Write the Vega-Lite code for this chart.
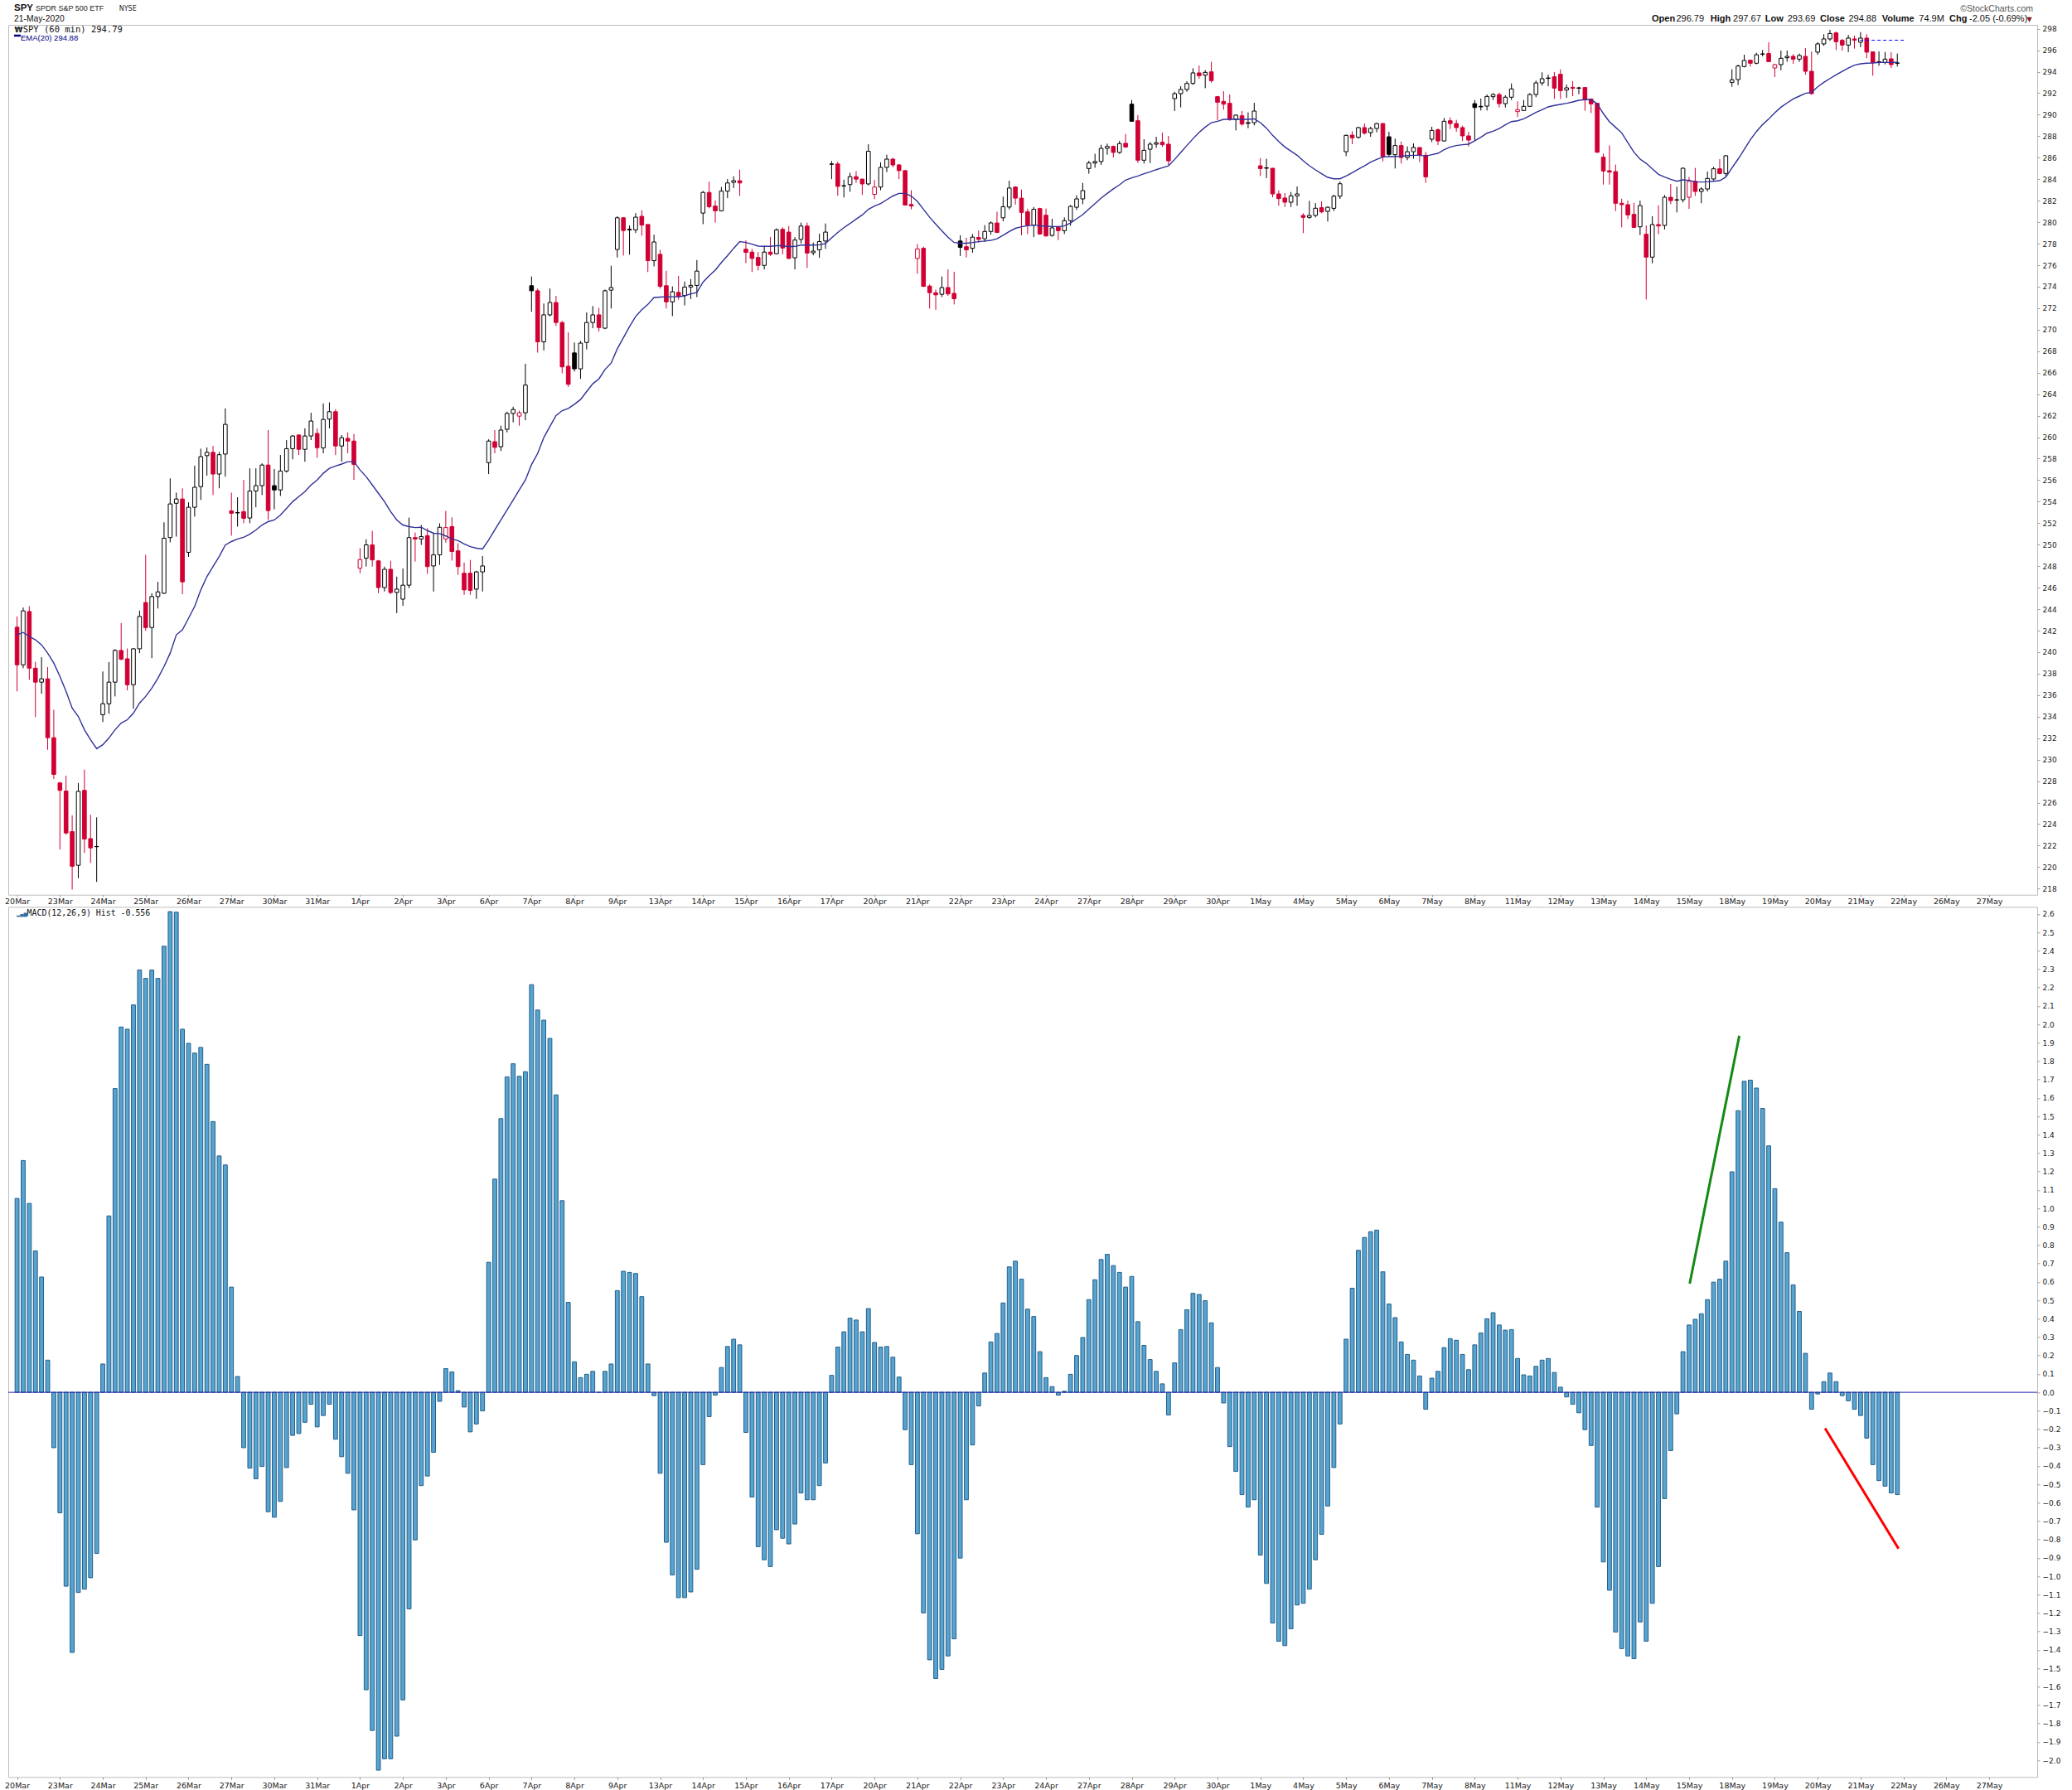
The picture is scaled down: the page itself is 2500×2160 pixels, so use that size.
{
"$schema": "https://vega.github.io/schema/vega-lite/v6.json",
"background": "white",
"padding": 0,
"bounds": "flush",
"spacing": 14.3,
"config": {"view": {"stroke": "#bdbdbd", "strokeWidth": 1}, "axis": {"labelFont": "DejaVu Sans", "labelFontSize": 9.5, "labelColor": "#1a1a1a", "tickColor": "#9a9a9a", "grid": false, "domain": false, "labelOverlap": false}},
"datasets": {
"bars": [
{"i":0,"o":242.32,"h":243.32,"l":236.35,"c":238.82,"e":241.61,"m":1.054},
{"i":1,"o":238.82,"h":244.15,"l":238.51,"c":243.84,"e":241.83,"m":1.26},
{"i":2,"o":243.78,"h":244.28,"l":237.43,"c":238.51,"e":241.46,"m":1.027},
{"i":3,"o":238.51,"h":239.10,"l":233.96,"c":237.21,"e":241.15,"m":0.769},
{"i":4,"o":237.21,"h":239.54,"l":236.13,"c":237.52,"e":240.68,"m":0.627},
{"i":5,"o":237.52,"h":238.61,"l":230.92,"c":232.04,"e":239.91,"m":0.175},
{"i":6,"o":232.04,"h":234.64,"l":228.2,"c":228.63,"e":238.98,"m":-0.301},
{"i":7,"o":227.83,"h":227.92,"l":221.63,"c":227.14,"e":237.74,"m":-0.655},
{"i":8,"o":227.08,"h":228.51,"l":223.02,"c":223.18,"e":236.35,"m":-1.054},
{"i":9,"o":223.30,"h":224.82,"l":217.91,"c":220.08,"e":234.8,"m":-1.414},
{"i":10,"o":220.17,"h":227.83,"l":218.97,"c":227.05,"e":234.02,"m":-1.088},
{"i":11,"o":227.14,"h":229.07,"l":221.32,"c":222.62,"e":232.78,"m":-1.07},
{"i":12,"o":222.65,"h":224.88,"l":220.39,"c":221.79,"e":231.85,"m":-1.008},
{"i":13,"o":221.90,"h":224.63,"l":218.63,"c":221.92,"e":231.02,"m":-0.876},
{"i":14,"o":234.18,"h":238.2,"l":233.5,"c":235.2,"e":231.39,"m":0.154},
{"i":15,"o":235.2,"h":239.07,"l":234.27,"c":237.21,"e":232.01,"m":0.959},
{"i":16,"o":237.21,"h":240.28,"l":235.88,"c":240.16,"e":232.78,"m":1.651},
{"i":17,"o":240.16,"h":242.7,"l":239.23,"c":239.35,"e":233.4,"m":1.986},
{"i":18,"o":239.38,"h":240.34,"l":236.44,"c":236.97,"e":233.71,"m":1.974},
{"i":19,"o":236.97,"h":240.37,"l":234.73,"c":240.31,"e":234.33,"m":2.106},
{"i":20,"o":240.31,"h":243.87,"l":239.91,"c":243.32,"e":235.26,"m":2.296},
{"i":21,"o":244.62,"h":249.05,"l":241.98,"c":242.29,"e":235.88,"m":2.25},
{"i":22,"o":242.29,"h":245.48,"l":239.44,"c":245.17,"e":236.65,"m":2.296},
{"i":23,"o":245.17,"h":246.54,"l":244.06,"c":245.61,"e":237.58,"m":2.25},
{"i":24,"o":245.48,"h":252.08,"l":245.42,"c":250.6,"e":238.67,"m":2.425},
{"i":25,"o":250.66,"h":256.17,"l":250.22,"c":253.79,"e":239.91,"m":2.613},
{"i":26,"o":253.85,"h":254.84,"l":250.75,"c":254.25,"e":241.61,"m":2.61},
{"i":27,"o":254.25,"h":255.24,"l":245.39,"c":246.54,"e":242.08,"m":1.974},
{"i":28,"o":249.29,"h":253.94,"l":248.86,"c":253.48,"e":243.16,"m":1.897},
{"i":29,"o":253.48,"h":257.35,"l":252.61,"c":255.34,"e":244.25,"m":1.844},
{"i":30,"o":255.4,"h":258.93,"l":254.16,"c":258.19,"e":245.79,"m":1.875},
{"i":31,"o":258.28,"h":259.05,"l":256.42,"c":258.59,"e":247.03,"m":1.783},
{"i":32,"o":258.59,"h":259.18,"l":254.62,"c":256.57,"e":247.96,"m":1.472},
{"i":33,"o":256.57,"h":258.62,"l":255.24,"c":258.37,"e":248.89,"m":1.285},
{"i":34,"o":258.43,"h":262.68,"l":256.33,"c":261.19,"e":249.97,"m":1.236},
{"i":35,"o":253.14,"h":254.84,"l":250.84,"c":252.92,"e":250.29,"m":0.572},
{"i":36,"o":252.99,"h":254.41,"l":251.68,"c":252.95,"e":250.53,"m":0.086},
{"i":37,"o":253.07,"h":256.02,"l":251.99,"c":252.45,"e":250.69,"m":-0.301},
{"i":38,"o":252.48,"h":257.1,"l":251.99,"c":254.99,"e":250.97,"m":-0.412},
{"i":39,"o":254.99,"h":257.1,"l":253.48,"c":255.49,"e":251.37,"m":-0.47},
{"i":40,"o":255.49,"h":257.57,"l":254.62,"c":257.41,"e":251.83,"m":-0.403},
{"i":41,"o":257.41,"h":260.66,"l":252.3,"c":253.17,"e":252.14,"m":-0.649},
{"i":42,"o":255.49,"h":257.04,"l":253.29,"c":255.09,"e":252.3,"m":-0.679},
{"i":43,"o":255.09,"h":258.34,"l":254.53,"c":256.85,"e":252.76,"m":-0.593},
{"i":44,"o":256.85,"h":259.73,"l":256.7,"c":258.93,"e":253.38,"m":-0.409},
{"i":45,"o":258.93,"h":260.2,"l":257.94,"c":260.11,"e":254.0,"m":-0.234},
{"i":46,"o":260.2,"h":260.26,"l":258.34,"c":258.87,"e":254.47,"m":-0.224},
{"i":47,"o":258.87,"h":260.82,"l":257.72,"c":260.11,"e":254.93,"m":-0.163},
{"i":48,"o":260.11,"h":262.27,"l":259.73,"c":261.5,"e":255.55,"m":-0.065},
{"i":49,"o":260.35,"h":260.82,"l":258.09,"c":259.02,"e":256.02,"m":-0.188},
{"i":50,"o":259.0,"h":263.14,"l":258.5,"c":261.65,"e":256.64,"m":-0.126},
{"i":51,"o":261.68,"h":263.23,"l":260.82,"c":262.37,"e":257.1,"m":-0.065},
{"i":52,"o":262.37,"h":262.62,"l":258.34,"c":259.18,"e":257.32,"m":-0.255},
{"i":53,"o":259.18,"h":260.2,"l":257.72,"c":259.95,"e":257.5,"m":-0.35},
{"i":54,"o":259.89,"h":260.45,"l":258.5,"c":259.64,"e":257.72,"m":-0.44},
{"i":55,"o":259.64,"h":260.29,"l":256.02,"c":257.47,"e":257.72,"m":-0.639},
{"i":56,"o":247.81,"h":249.67,"l":247.34,"c":248.61,"e":256.95,"m":-1.322},
{"i":57,"o":248.74,"h":250.5,"l":247.96,"c":249.98,"e":256.33,"m":-1.617},
{"i":58,"o":249.98,"h":251.28,"l":247.96,"c":248.58,"e":255.55,"m":-1.838},
{"i":59,"o":248.49,"h":248.58,"l":245.48,"c":246.01,"e":254.78,"m":-2.054},
{"i":60,"o":246.01,"h":247.96,"l":245.64,"c":247.71,"e":254.0,"m":-1.992},
{"i":61,"o":247.71,"h":248.49,"l":245.39,"c":245.55,"e":253.07,"m":-1.992},
{"i":62,"o":245.55,"h":247.03,"l":243.63,"c":245.86,"e":252.3,"m":-1.869},
{"i":63,"o":244.93,"h":247.78,"l":244.31,"c":246.23,"e":251.83,"m":-1.672},
{"i":64,"o":246.23,"h":252.52,"l":245.95,"c":250.66,"e":251.68,"m":-1.177},
{"i":65,"o":250.66,"h":251.12,"l":248.43,"c":250.53,"e":251.59,"m":-0.802},
{"i":66,"o":250.53,"h":251.83,"l":249.98,"c":250.75,"e":251.62,"m":-0.507},
{"i":67,"o":250.84,"h":251.53,"l":247.28,"c":247.96,"e":251.31,"m":-0.455},
{"i":68,"o":248.02,"h":251.12,"l":245.64,"c":249.05,"e":251.06,"m":-0.326},
{"i":69,"o":249.05,"h":251.99,"l":248.12,"c":251.62,"e":251.03,"m":-0.049},
{"i":70,"o":250.53,"h":253.14,"l":250.19,"c":251.59,"e":250.81,"m":0.129},
{"i":71,"o":251.68,"h":252.55,"l":248.52,"c":249.36,"e":250.53,"m":0.111},
{"i":72,"o":249.42,"h":250.13,"l":247.19,"c":247.96,"e":250.38,"m":0.009},
{"i":73,"o":247.34,"h":248.33,"l":245.33,"c":245.79,"e":250.07,"m":-0.08},
{"i":74,"o":247.34,"h":248.58,"l":245.33,"c":245.75,"e":249.82,"m":-0.215},
{"i":75,"o":245.86,"h":247.56,"l":244.96,"c":247.47,"e":249.67,"m":-0.172},
{"i":76,"o":247.47,"h":248.95,"l":245.64,"c":248.02,"e":249.6,"m":-0.101},
{"i":77,"o":257.63,"h":259.8,"l":256.57,"c":259.64,"e":250.44,"m":0.707},
{"i":78,"o":259.58,"h":260.66,"l":258.5,"c":259.05,"e":251.37,"m":1.159},
{"i":79,"o":259.11,"h":261.07,"l":258.71,"c":260.66,"e":252.3,"m":1.488},
{"i":80,"o":260.73,"h":262.37,"l":260.45,"c":262.21,"e":253.23,"m":1.715},
{"i":81,"o":262.21,"h":262.83,"l":261.38,"c":262.58,"e":254.16,"m":1.786},
{"i":82,"o":261.96,"h":262.46,"l":261.07,"c":262.27,"e":255.09,"m":1.718},
{"i":83,"o":262.27,"h":266.83,"l":261.58,"c":264.85,"e":256.02,"m":1.743},
{"i":84,"o":274.09,"h":274.95,"l":271.67,"c":273.62,"e":257.45,"m":2.216},
{"i":85,"o":273.62,"h":273.83,"l":267.87,"c":268.87,"e":258.48,"m":2.078},
{"i":86,"o":268.87,"h":272.44,"l":268.07,"c":271.38,"e":259.96,"m":2.023},
{"i":87,"o":271.38,"h":273.83,"l":271.23,"c":272.53,"e":260.99,"m":1.924},
{"i":88,"o":272.53,"h":273.15,"l":270.34,"c":270.67,"e":262.02,"m":1.617},
{"i":89,"o":270.67,"h":270.82,"l":265.95,"c":266.54,"e":262.47,"m":1.042},
{"i":90,"o":266.6,"h":269.75,"l":264.68,"c":264.92,"e":262.67,"m":0.489},
{"i":91,"o":267.84,"h":268.81,"l":266.10,"c":266.36,"e":263.06,"m":0.166},
{"i":92,"o":266.36,"h":268.96,"l":265.42,"c":268.75,"e":263.5,"m":0.08},
{"i":93,"o":268.81,"h":271.61,"l":268.16,"c":270.67,"e":264.24,"m":0.098},
{"i":94,"o":270.67,"h":272.2,"l":270.14,"c":271.38,"e":264.97,"m":0.114},
{"i":95,"o":271.38,"h":272.03,"l":269.84,"c":270.2,"e":265.42,"m":0.0},
{"i":96,"o":270.14,"h":273.74,"l":270.05,"c":273.62,"e":266.3,"m":0.114},
{"i":97,"o":273.68,"h":275.95,"l":271.97,"c":273.92,"e":266.89,"m":0.154},
{"i":98,"o":277.46,"h":280.55,"l":276.72,"c":280.41,"e":268.22,"m":0.553},
{"i":99,"o":280.41,"h":280.47,"l":276.9,"c":279.23,"e":269.25,"m":0.658},
{"i":100,"o":279.35,"h":279.7,"l":276.98,"c":279.29,"e":270.29,"m":0.652},
{"i":101,"o":279.29,"h":280.85,"l":278.99,"c":280.47,"e":271.23,"m":0.646},
{"i":102,"o":280.55,"h":281.11,"l":278.75,"c":279.73,"e":271.85,"m":0.52},
{"i":103,"o":279.79,"h":279.79,"l":275.36,"c":276.42,"e":272.35,"m":0.154},
{"i":104,"o":276.42,"h":278.84,"l":275.89,"c":278.16,"e":273.0,"m":-0.018},
{"i":105,"o":277.01,"h":277.43,"l":273.83,"c":274.03,"e":273.03,"m":-0.44},
{"i":106,"o":274.09,"h":275.48,"l":271.97,"c":272.59,"e":273.06,"m":-0.815},
{"i":107,"o":272.59,"h":274.03,"l":271.26,"c":273.53,"e":273.06,"m":-0.993},
{"i":108,"o":273.47,"h":275.01,"l":272.79,"c":273.09,"e":273.06,"m":-1.116},
{"i":109,"o":273.18,"h":274.48,"l":272.26,"c":273.97,"e":273.15,"m":-1.116},
{"i":110,"o":273.97,"h":274.71,"l":272.85,"c":274.12,"e":273.33,"m":-1.085},
{"i":111,"o":274.12,"h":276.48,"l":273.03,"c":275.45,"e":273.47,"m":-0.962},
{"i":112,"o":280.85,"h":282.91,"l":279.82,"c":282.77,"e":274.42,"m":-0.393},
{"i":113,"o":282.77,"h":283.77,"l":281.29,"c":281.44,"e":275.01,"m":-0.132},
{"i":114,"o":281.5,"h":282.03,"l":279.96,"c":281.06,"e":275.54,"m":-0.015},
{"i":115,"o":281.06,"h":283.27,"l":281.0,"c":282.89,"e":276.25,"m":0.135},
{"i":116,"o":282.89,"h":284.01,"l":282.24,"c":283.65,"e":276.89,"m":0.249},
{"i":117,"o":283.71,"h":284.27,"l":283.18,"c":283.86,"e":277.57,"m":0.289},
{"i":118,"o":283.86,"h":284.89,"l":282.44,"c":283.65,"e":278.19,"m":0.258},
{"i":119,"o":277.49,"h":278.31,"l":276.19,"c":277.19,"e":278.11,"m":-0.218},
{"i":120,"o":277.22,"h":277.52,"l":275.36,"c":276.63,"e":277.96,"m":-0.569},
{"i":121,"o":276.72,"h":277.22,"l":275.51,"c":275.98,"e":277.78,"m":-0.839},
{"i":122,"o":275.98,"h":277.81,"l":275.6,"c":277.22,"e":277.75,"m":-0.91},
{"i":123,"o":277.22,"h":278.63,"l":276.86,"c":277.01,"e":277.75,"m":-0.947},
{"i":124,"o":277.07,"h":279.43,"l":277.01,"c":279.29,"e":277.81,"m":-0.747},
{"i":125,"o":279.34,"h":279.52,"l":277.01,"c":277.6,"e":277.81,"m":-0.793},
{"i":126,"o":279.08,"h":279.64,"l":276.57,"c":276.63,"e":277.72,"m":-0.824},
{"i":127,"o":276.69,"h":278.61,"l":275.6,"c":278.34,"e":277.75,"m":-0.716},
{"i":128,"o":278.4,"h":279.96,"l":278.02,"c":279.64,"e":277.87,"m":-0.547},
{"i":129,"o":279.64,"h":279.96,"l":275.74,"c":277.13,"e":277.87,"m":-0.584},
{"i":130,"o":277.16,"h":278.11,"l":276.92,"c":277.31,"e":277.87,"m":-0.584},
{"i":131,"o":277.43,"h":278.93,"l":276.69,"c":278.2,"e":277.9,"m":-0.507},
{"i":132,"o":278.25,"h":279.88,"l":277.52,"c":279.08,"e":278.02,"m":-0.384},
{"i":133,"o":285.42,"h":285.69,"l":284.01,"c":285.39,"e":278.55,"m":0.092},
{"i":134,"o":285.42,"h":285.63,"l":282.47,"c":283.33,"e":279.05,"m":0.246},
{"i":135,"o":283.4,"h":283.95,"l":282.3,"c":283.36,"e":279.49,"m":0.329},
{"i":136,"o":283.5,"h":284.6,"l":282.83,"c":284.24,"e":279.88,"m":0.403},
{"i":137,"o":284.24,"h":284.75,"l":283.65,"c":284.01,"e":280.29,"m":0.393},
{"i":138,"o":284.01,"h":284.05,"l":282.53,"c":283.56,"e":280.67,"m":0.329},
{"i":139,"o":283.56,"h":287.25,"l":283.42,"c":286.6,"e":281.2,"m":0.455},
{"i":140,"o":282.59,"h":283.92,"l":282.15,"c":283.27,"e":281.5,"m":0.271},
{"i":141,"o":283.27,"h":285.57,"l":282.97,"c":285.1,"e":281.73,"m":0.246},
{"i":142,"o":285.1,"h":286.28,"l":284.66,"c":285.87,"e":282.09,"m":0.249},
{"i":143,"o":285.87,"h":285.99,"l":285.1,"c":285.33,"e":282.44,"m":0.191},
{"i":144,"o":285.33,"h":285.42,"l":284.01,"c":284.8,"e":282.68,"m":0.083},
{"i":145,"o":284.8,"h":284.85,"l":281.56,"c":281.59,"e":282.68,"m":-0.203},
{"i":146,"o":281.65,"h":282.97,"l":281.2,"c":281.5,"e":282.44,"m":-0.393},
{"i":147,"o":276.63,"h":277.96,"l":275.21,"c":277.51,"e":281.94,"m":-0.769},
{"i":148,"o":277.57,"h":277.72,"l":273.97,"c":274.03,"e":281.2,"m":-1.199},
{"i":149,"o":274.06,"h":274.21,"l":271.97,"c":273.44,"e":280.46,"m":-1.454},
{"i":150,"o":273.44,"h":273.74,"l":271.85,"c":273.24,"e":279.82,"m":-1.556},
{"i":151,"o":273.29,"h":274.95,"l":273.03,"c":273.92,"e":279.2,"m":-1.506},
{"i":152,"o":273.92,"h":275.6,"l":273.15,"c":273.33,"e":278.61,"m":-1.433},
{"i":153,"o":273.38,"h":275.39,"l":272.35,"c":272.88,"e":278.11,"m":-1.34},
{"i":154,"o":278.25,"h":278.78,"l":276.86,"c":277.66,"e":278.05,"m":-0.901},
{"i":155,"o":277.72,"h":278.55,"l":276.72,"c":277.43,"e":278.05,"m":-0.584},
{"i":156,"o":277.57,"h":278.9,"l":277.16,"c":278.61,"e":278.11,"m":-0.286},
{"i":157,"o":278.58,"h":279.23,"l":278.11,"c":278.4,"e":278.19,"m":-0.074},
{"i":158,"o":278.46,"h":279.73,"l":278.16,"c":279.14,"e":278.25,"m":0.105},
{"i":159,"o":279.14,"h":280.08,"l":278.84,"c":279.93,"e":278.31,"m":0.274},
{"i":160,"o":279.93,"h":280.97,"l":278.99,"c":279.05,"e":278.46,"m":0.32},
{"i":161,"o":280.41,"h":282.38,"l":280.08,"c":281.44,"e":278.78,"m":0.486},
{"i":162,"o":281.41,"h":283.86,"l":281.2,"c":283.18,"e":279.14,"m":0.682},
{"i":163,"o":283.27,"h":283.36,"l":281.65,"c":282.24,"e":279.43,"m":0.713},
{"i":164,"o":282.24,"h":283.03,"l":278.78,"c":280.91,"e":279.58,"m":0.615},
{"i":165,"o":280.97,"h":281.26,"l":278.9,"c":279.73,"e":279.67,"m":0.452},
{"i":166,"o":279.73,"h":281.41,"l":278.61,"c":281.2,"e":279.73,"m":0.412},
{"i":167,"o":281.27,"h":281.35,"l":278.83,"c":278.9,"e":279.67,"m":0.221},
{"i":168,"o":280.65,"h":281.27,"l":278.65,"c":278.72,"e":279.62,"m":0.08},
{"i":169,"o":278.77,"h":280.32,"l":278.65,"c":279.47,"e":279.6,"m":0.031},
{"i":170,"o":279.55,"h":279.6,"l":278.34,"c":279.21,"e":279.6,"m":-0.015},
{"i":171,"o":279.21,"h":280.45,"l":278.9,"c":280.14,"e":279.65,"m":0.006},
{"i":172,"o":280.14,"h":281.6,"l":279.67,"c":281.47,"e":279.93,"m":0.098},
{"i":173,"o":281.39,"h":282.5,"l":281.14,"c":282.17,"e":280.32,"m":0.2},
{"i":174,"o":282.17,"h":283.66,"l":281.68,"c":282.94,"e":280.7,"m":0.298},
{"i":175,"o":285.0,"h":285.71,"l":284.51,"c":285.51,"e":281.22,"m":0.504},
{"i":176,"o":285.51,"h":286.36,"l":285.07,"c":285.64,"e":281.73,"m":0.612},
{"i":177,"o":285.64,"h":287.2,"l":285.33,"c":286.87,"e":282.25,"m":0.722},
{"i":178,"o":286.87,"h":287.31,"l":286.28,"c":287.05,"e":282.68,"m":0.75},
{"i":179,"o":287.05,"h":287.13,"l":286.02,"c":286.49,"e":283.1,"m":0.689},
{"i":180,"o":286.49,"h":287.57,"l":286.36,"c":287.31,"e":283.48,"m":0.652},
{"i":181,"o":287.34,"h":288.21,"l":286.92,"c":287.0,"e":283.92,"m":0.572},
{"i":182,"o":290.98,"h":291.37,"l":289.37,"c":289.39,"e":284.12,"m":0.63},
{"i":183,"o":289.44,"h":289.96,"l":285.51,"c":285.77,"e":284.3,"m":0.384},
{"i":184,"o":285.77,"h":287.72,"l":285.46,"c":286.69,"e":284.51,"m":0.255},
{"i":185,"o":286.79,"h":287.46,"l":285.51,"c":287.26,"e":284.69,"m":0.178},
{"i":186,"o":287.26,"h":287.95,"l":286.92,"c":287.39,"e":284.89,"m":0.114},
{"i":187,"o":287.44,"h":288.34,"l":287.0,"c":287.21,"e":285.07,"m":0.046},
{"i":188,"o":287.26,"h":288.03,"l":285.33,"c":285.71,"e":285.25,"m":-0.123},
{"i":189,"o":291.5,"h":292.14,"l":290.34,"c":291.96,"e":285.84,"m":0.16},
{"i":190,"o":291.96,"h":292.65,"l":290.68,"c":292.35,"e":286.49,"m":0.341},
{"i":191,"o":292.35,"h":293.12,"l":292.14,"c":292.91,"e":287.13,"m":0.449},
{"i":192,"o":292.91,"h":294.32,"l":292.78,"c":293.89,"e":287.77,"m":0.538},
{"i":193,"o":293.89,"h":294.58,"l":293.35,"c":293.63,"e":288.36,"m":0.532},
{"i":194,"o":293.68,"h":294.15,"l":292.47,"c":293.94,"e":288.85,"m":0.498},
{"i":195,"o":293.99,"h":294.92,"l":292.99,"c":293.17,"e":289.26,"m":0.378},
{"i":196,"o":291.68,"h":291.75,"l":289.49,"c":291.16,"e":289.39,"m":0.135},
{"i":197,"o":291.24,"h":292.19,"l":290.47,"c":290.98,"e":289.57,"m":-0.058},
{"i":198,"o":291.06,"h":291.88,"l":289.44,"c":289.57,"e":289.57,"m":-0.295},
{"i":199,"o":289.57,"h":290.03,"l":288.54,"c":289.96,"e":289.57,"m":-0.43},
{"i":200,"o":289.9,"h":290.34,"l":288.98,"c":289.13,"e":289.57,"m":-0.556},
{"i":201,"o":289.26,"h":290.21,"l":288.75,"c":289.2,"e":289.57,"m":-0.624},
{"i":202,"o":289.26,"h":291.11,"l":289.0,"c":290.34,"e":289.62,"m":-0.584},
{"i":203,"o":285.25,"h":285.97,"l":284.3,"c":284.99,"e":289.26,"m":-0.885},
{"i":204,"o":285.06,"h":285.9,"l":284.1,"c":285.02,"e":288.75,"m":-1.039},
{"i":205,"o":285.02,"h":285.05,"l":282.32,"c":282.63,"e":288.08,"m":-1.254},
{"i":206,"o":282.63,"h":282.96,"l":281.53,"c":282.2,"e":287.51,"m":-1.353},
{"i":207,"o":282.25,"h":282.71,"l":281.42,"c":281.86,"e":287.0,"m":-1.377},
{"i":208,"o":281.86,"h":282.81,"l":281.42,"c":282.45,"e":286.61,"m":-1.285},
{"i":209,"o":282.45,"h":283.32,"l":281.53,"c":282.63,"e":286.23,"m":-1.156},
{"i":210,"o":280.63,"h":280.83,"l":278.98,"c":280.45,"e":285.71,"m":-1.147},
{"i":211,"o":280.45,"h":281.99,"l":280.32,"c":280.63,"e":285.25,"m":-1.07},
{"i":212,"o":280.63,"h":281.78,"l":280.45,"c":281.3,"e":284.87,"m":-0.91},
{"i":213,"o":281.35,"h":281.94,"l":280.83,"c":280.96,"e":284.51,"m":-0.772},
{"i":214,"o":281.01,"h":281.47,"l":280.06,"c":281.39,"e":284.17,"m":-0.618},
{"i":215,"o":281.29,"h":282.55,"l":281.04,"c":282.42,"e":284.04,"m":-0.409},
{"i":216,"o":282.42,"h":283.79,"l":282.17,"c":283.58,"e":284.04,"m":-0.172},
{"i":217,"o":286.56,"h":288.16,"l":286.15,"c":288.08,"e":284.3,"m":0.289},
{"i":218,"o":288.1,"h":288.47,"l":287.26,"c":287.85,"e":284.61,"m":0.566},
{"i":219,"o":287.9,"h":288.88,"l":287.77,"c":288.8,"e":284.94,"m":0.772},
{"i":220,"o":288.8,"h":289.18,"l":288.16,"c":288.28,"e":285.25,"m":0.842},
{"i":221,"o":288.34,"h":288.88,"l":287.95,"c":288.72,"e":285.59,"m":0.873},
{"i":222,"o":288.72,"h":289.24,"l":288.36,"c":289.18,"e":285.84,"m":0.882},
{"i":223,"o":289.18,"h":289.2,"l":285.66,"c":286.1,"e":286.07,"m":0.655},
{"i":224,"o":287.95,"h":288.41,"l":286.1,"c":286.31,"e":286.1,"m":0.48},
{"i":225,"o":286.28,"h":287.77,"l":285.0,"c":287.13,"e":286.1,"m":0.406},
{"i":226,"o":287.13,"h":287.51,"l":285.46,"c":286.02,"e":286.15,"m":0.274},
{"i":227,"o":286.02,"h":287.05,"l":285.77,"c":286.56,"e":286.2,"m":0.206},
{"i":228,"o":286.56,"h":287.33,"l":285.9,"c":286.95,"e":286.23,"m":0.175},
{"i":229,"o":286.95,"h":286.97,"l":285.59,"c":286.23,"e":286.23,"m":0.089},
{"i":230,"o":286.23,"h":286.54,"l":283.66,"c":284.22,"e":286.15,"m":-0.092},
{"i":231,"o":287.72,"h":288.88,"l":287.46,"c":288.54,"e":286.28,"m":0.077},
{"i":232,"o":288.6,"h":288.72,"l":287.18,"c":287.56,"e":286.41,"m":0.114},
{"i":233,"o":287.56,"h":289.7,"l":287.51,"c":289.39,"e":286.74,"m":0.243},
{"i":234,"o":289.44,"h":289.75,"l":288.67,"c":289.18,"e":287.0,"m":0.292},
{"i":235,"o":289.18,"h":289.52,"l":288.41,"c":288.8,"e":287.13,"m":0.283},
{"i":236,"o":288.8,"h":288.98,"l":287.56,"c":288.03,"e":287.21,"m":0.206},
{"i":237,"o":288.03,"h":288.41,"l":287.05,"c":287.64,"e":287.26,"m":0.123},
{"i":238,"o":291.03,"h":291.37,"l":287.59,"c":290.67,"e":287.57,"m":0.258},
{"i":239,"o":290.78,"h":291.5,"l":290.39,"c":290.73,"e":287.9,"m":0.323},
{"i":240,"o":290.8,"h":291.88,"l":290.39,"c":291.7,"e":288.28,"m":0.4},
{"i":241,"o":291.68,"h":292.01,"l":291.37,"c":291.88,"e":288.46,"m":0.433},
{"i":242,"o":291.88,"h":292.06,"l":290.67,"c":291.03,"e":288.72,"m":0.366},
{"i":243,"o":291.03,"h":291.81,"l":290.67,"c":291.63,"e":289.06,"m":0.338},
{"i":244,"o":291.63,"h":292.91,"l":291.37,"c":292.4,"e":289.36,"m":0.341},
{"i":245,"o":290.29,"h":291.24,"l":289.78,"c":290.47,"e":289.44,"m":0.184},
{"i":246,"o":290.39,"h":291.37,"l":290.34,"c":290.78,"e":289.62,"m":0.095},
{"i":247,"o":290.78,"h":292.01,"l":290.73,"c":291.88,"e":289.9,"m":0.089},
{"i":248,"o":291.88,"h":293.17,"l":291.63,"c":292.96,"e":290.21,"m":0.141},
{"i":249,"o":292.96,"h":293.94,"l":292.71,"c":293.35,"e":290.47,"m":0.175},
{"i":250,"o":293.42,"h":293.73,"l":292.65,"c":293.38,"e":290.73,"m":0.184},
{"i":251,"o":293.53,"h":293.97,"l":291.47,"c":292.47,"e":290.86,"m":0.108},
{"i":252,"o":293.76,"h":294.22,"l":291.47,"c":292.24,"e":290.96,"m":0.028},
{"i":253,"o":292.3,"h":292.81,"l":291.58,"c":292.5,"e":291.06,"m":-0.025},
{"i":254,"o":292.55,"h":293.14,"l":291.73,"c":292.45,"e":291.19,"m":-0.065},
{"i":255,"o":292.5,"h":292.6,"l":291.91,"c":292.47,"e":291.34,"m":-0.111},
{"i":256,"o":292.53,"h":292.55,"l":290.37,"c":291.4,"e":291.4,"m":-0.203},
{"i":257,"o":291.45,"h":291.52,"l":290.16,"c":291.01,"e":291.4,"m":-0.289},
{"i":258,"o":291.06,"h":291.06,"l":286.44,"c":286.51,"e":291.01,"m":-0.624},
{"i":259,"o":286.05,"h":286.38,"l":283.5,"c":284.76,"e":290.11,"m":-0.922},
{"i":260,"o":284.79,"h":287.15,"l":283.5,"c":284.66,"e":289.34,"m":-1.076},
{"i":261,"o":284.71,"h":285.36,"l":281.04,"c":281.76,"e":288.83,"m":-1.303},
{"i":262,"o":281.76,"h":282.19,"l":279.52,"c":281.63,"e":288.31,"m":-1.393},
{"i":263,"o":281.63,"h":282.01,"l":280.29,"c":280.68,"e":287.41,"m":-1.433},
{"i":264,"o":280.73,"h":281.81,"l":279.5,"c":279.52,"e":286.51,"m":-1.448},
{"i":265,"o":279.57,"h":282.01,"l":278.8,"c":281.55,"e":285.87,"m":-1.248},
{"i":266,"o":278.88,"h":279.7,"l":272.81,"c":276.75,"e":285.48,"m":-1.353},
{"i":267,"o":276.75,"h":280.55,"l":276.18,"c":279.78,"e":284.97,"m":-1.147},
{"i":268,"o":279.78,"h":281.58,"l":278.88,"c":279.65,"e":284.46,"m":-0.947},
{"i":269,"o":279.7,"h":282.53,"l":279.32,"c":282.32,"e":284.2,"m":-0.578},
{"i":270,"o":282.32,"h":283.56,"l":281.68,"c":282.01,"e":283.99,"m":-0.317},
{"i":271,"o":282.09,"h":283.3,"l":280.91,"c":282.06,"e":283.81,"m":-0.117},
{"i":272,"o":282.09,"h":285.1,"l":281.84,"c":285.02,"e":283.94,"m":0.221},
{"i":273,"o":282.32,"h":284.2,"l":281.24,"c":283.81,"e":283.89,"m":0.366},
{"i":274,"o":283.81,"h":285.05,"l":282.45,"c":282.86,"e":283.76,"m":0.397},
{"i":275,"o":282.86,"h":283.25,"l":281.76,"c":283.09,"e":283.74,"m":0.427},
{"i":276,"o":283.09,"h":284.71,"l":282.86,"c":284.07,"e":283.76,"m":0.504},
{"i":277,"o":284.02,"h":285.15,"l":283.89,"c":284.97,"e":283.81,"m":0.599},
{"i":278,"o":284.97,"h":285.87,"l":284.46,"c":284.53,"e":283.86,"m":0.615},
{"i":279,"o":284.53,"h":286.26,"l":284.28,"c":286.18,"e":284.2,"m":0.713},
{"i":280,"o":293.01,"h":294.22,"l":292.6,"c":293.25,"e":285.05,"m":1.199},
{"i":281,"o":293.27,"h":294.66,"l":292.76,"c":294.53,"e":285.87,"m":1.531},
{"i":282,"o":294.48,"h":295.58,"l":294.4,"c":295.05,"e":286.77,"m":1.691},
{"i":283,"o":295.07,"h":295.12,"l":294.48,"c":294.79,"e":287.67,"m":1.697},
{"i":284,"o":294.79,"h":295.76,"l":294.69,"c":295.58,"e":288.44,"m":1.654},
{"i":285,"o":295.66,"h":296.02,"l":295.43,"c":295.63,"e":289.08,"m":1.543},
{"i":286,"o":295.69,"h":296.74,"l":294.92,"c":294.94,"e":289.6,"m":1.34},
{"i":287,"o":294.35,"h":294.74,"l":293.5,"c":294.66,"e":290.19,"m":1.107},
{"i":288,"o":294.66,"h":295.97,"l":294.14,"c":295.25,"e":290.7,"m":0.925},
{"i":289,"o":295.3,"h":295.97,"l":294.94,"c":295.43,"e":291.09,"m":0.759},
{"i":290,"o":295.43,"h":295.64,"l":294.74,"c":295.17,"e":291.47,"m":0.584},
{"i":291,"o":295.17,"h":295.69,"l":294.92,"c":295.51,"e":291.73,"m":0.44},
{"i":292,"o":295.43,"h":296.2,"l":293.71,"c":294.04,"e":291.99,"m":0.212},
{"i":293,"o":294.04,"h":295.89,"l":291.86,"c":291.96,"e":292.09,"m":-0.092},
{"i":294,"o":295.82,"h":296.74,"l":295.58,"c":296.59,"e":292.6,"m":-0.009},
{"i":295,"o":296.59,"h":297.49,"l":296.41,"c":297.05,"e":293.01,"m":0.058},
{"i":296,"o":297.05,"h":297.9,"l":296.87,"c":297.56,"e":293.37,"m":0.105},
{"i":297,"o":297.61,"h":297.74,"l":296.02,"c":296.79,"e":293.71,"m":0.058},
{"i":298,"o":296.92,"h":297.05,"l":295.97,"c":296.48,"e":294.04,"m":-0.018},
{"i":299,"o":296.48,"h":297.43,"l":295.82,"c":297.13,"e":294.35,"m":-0.046},
{"i":300,"o":297.05,"h":297.36,"l":296.15,"c":296.93,"e":294.61,"m":-0.092},
{"i":301,"o":296.74,"h":297.69,"l":296.28,"c":297.13,"e":294.74,"m":-0.126},
{"i":302,"o":297.13,"h":297.49,"l":295.25,"c":295.82,"e":294.79,"m":-0.249},
{"i":303,"o":295.84,"h":295.89,"l":293.63,"c":294.86,"e":294.81,"m":-0.393},
{"i":304,"o":294.92,"h":295.89,"l":294.56,"c":294.88,"e":294.86,"m":-0.48},
{"i":305,"o":294.86,"h":295.84,"l":294.68,"c":295.17,"e":294.86,"m":-0.51},
{"i":306,"o":295.2,"h":295.81,"l":294.35,"c":294.66,"e":294.86,"m":-0.547},
{"i":307,"o":294.82,"h":295.69,"l":294.48,"c":294.79,"e":294.88,"m":-0.556}
],
"trend": [
{"id":"g","x":273.1,"v":0.591},{"id":"g","x":281.2,"v":1.938},
{"id":"r","x":295.2,"v":-0.195},{"id":"r","x":307.2,"v":-0.85}
]
},
"vconcat": [
{
"width": 2448, "height": 1049.7,
"layer": [
{"data": {"name": "bars"},
 "transform": [
  {"window": [{"op": "lag", "field": "c", "as": "pc"}], "sort": [{"field": "i", "order": "ascending"}]},
  {"calculate": "datum.pc == null ? (datum.c < datum.o ? '#D10034' : '#000000') : (datum.c < datum.pc ? '#D10034' : '#000000')", "as": "sc"}
 ],
 "mark": {"type": "rule", "strokeWidth": 1},
 "encoding": {
  "x": {"field": "i", "type": "quantitative", "scale": {"domain": [-0.755, 329.16], "nice": false, "zero": false},
   "axis": {"orient": "bottom", "title": null, "tickCount": 200, "values": [0,7,14,21,28,35,42,49,56,63,70,77,84,91,98,105,112,119,126,133,140,147,154,161,168,175,182,189,196,203,210,217,224,231,238,245,252,259,266,273,280,287,294,301,308,315,322],
    "labelExpr": "['20Mar','23Mar','24Mar','25Mar','26Mar','27Mar','30Mar','31Mar','1Apr','2Apr','3Apr','6Apr','7Apr','8Apr','9Apr','13Apr','14Apr','15Apr','16Apr','17Apr','20Apr','21Apr','22Apr','23Apr','24Apr','27Apr','28Apr','29Apr','30Apr','1May','4May','5May','6May','7May','8May','11May','12May','13May','14May','15May','18May','19May','20May','21May','22May','26May','27May'][round(datum.value/7)]",
    "tickSize": 2, "labelPadding": 1, "labelFlush": false, "labelOverlap": false, "labelBound": false}},
  "y": {"field": "l", "type": "quantitative", "scale": {"domain": [217.43, 298.36], "nice": false, "zero": false},
   "axis": {"orient": "right", "title": null, "format": "d", "tickCount": 200, "values": [218,220,222,224,226,228,230,232,234,236,238,240,242,244,246,248,250,252,254,256,258,260,262,264,266,268,270,272,274,276,278,280,282,284,286,288,290,292,294,296,298],
    "labelFontSize": 9, "tickSize": 3, "labelPadding": 3, "labelOverlap": false, "labelFlush": false, "labelBound": false}},
  "y2": {"field": "h"},
  "color": {"field": "sc", "type": "nominal", "scale": null}
 }},
{"data": {"values": [{}]}, "mark": {"type": "rule", "opacity": 0, "strokeWidth": 0},
 "encoding": {"x": {"datum": -2.64}, "x2": {"datum": -2.64}, "y": {"datum": 300.62}, "y2": {"datum": 300.62}}},
{"data": {"name": "bars"},
 "transform": [
  {"window": [{"op": "lag", "field": "c", "as": "pc"}], "sort": [{"field": "i", "order": "ascending"}]},
  {"calculate": "datum.pc == null ? (datum.c < datum.o ? '#D10034' : '#000000') : (datum.c < datum.pc ? '#D10034' : '#000000')", "as": "sc"},
  {"calculate": "datum.c < datum.o ? datum.sc : '#FFFFFF'", "as": "fc"}
 ],
 "mark": {"type": "bar", "size": 4.6, "strokeWidth": 1},
 "encoding": {
  "x": {"field": "i", "type": "quantitative"},
  "y": {"field": "o", "type": "quantitative"},
  "y2": {"field": "c"},
  "fill": {"field": "fc", "type": "nominal", "scale": null},
  "stroke": {"field": "sc", "type": "nominal", "scale": null}
 }},
{"data": {"name": "bars"},
 "mark": {"type": "line", "color": "#30309A", "strokeWidth": 1.4},
 "encoding": {"x": {"field": "i", "type": "quantitative"}, "y": {"field": "e", "type": "quantitative"}}},
{"data": {"values": [{}]},
 "mark": {"type": "rule", "color": "#0000FF", "strokeDash": [4, 3], "strokeWidth": 1},
 "encoding": {"x": {"datum": 300.9}, "x2": {"datum": 308.1}, "y": {"datum": 296.93}}},
{"data": {"values": [{}]},
 "mark": {"type": "rule", "color": "#000080", "strokeWidth": 2.5},
 "encoding": {"x": {"datum": -0.485}, "x2": {"datum": 0.593}, "y": {"datum": 297.36}}},
{"data": {"values": [{}]}, "mark": {"type": "text", "text": "SPY", "font": "Liberation Sans", "fontSize": 11.5, "fontWeight": "bold", "align": "left", "baseline": "alphabetic", "dx": 2, "dy": -17, "color": "#111111"},
 "encoding": {"x": {"datum": -0.755}, "y": {"datum": 298.36}}},
{"data": {"values": [{}]}, "mark": {"type": "text", "text": "SPDR S&P 500 ETF", "font": "Liberation Sans", "fontSize": 9, "align": "left", "baseline": "alphabetic", "dx": 28, "dy": -17.3, "color": "#222222"},
 "encoding": {"x": {"datum": -0.755}, "y": {"datum": 298.36}}},
{"data": {"values": [{}]}, "mark": {"type": "text", "text": "NYSE", "font": "DejaVu Sans", "fontSize": 8, "align": "left", "baseline": "alphabetic", "dx": 128.7, "dy": -17.5, "color": "#222222"},
 "encoding": {"x": {"datum": -0.755}, "y": {"datum": 298.36}}},
{"data": {"values": [{}]}, "mark": {"type": "text", "text": "21-May-2020", "font": "Liberation Sans", "fontSize": 10.3, "align": "left", "baseline": "alphabetic", "dx": 2, "dy": -4.1, "color": "#111111"},
 "encoding": {"x": {"datum": -0.755}, "y": {"datum": 298.36}}},
{"data": {"values": [{}]}, "mark": {"type": "text", "text": "₩", "font": "DejaVu Sans", "fontSize": 9, "fontWeight": "bold", "align": "left", "baseline": "alphabetic", "dx": 2.5, "dy": 9.2, "color": "#222222"},
 "encoding": {"x": {"datum": -0.755}, "y": {"datum": 298.36}}},
{"data": {"values": [{}]}, "mark": {"type": "text", "text": "SPY (60 min) 294.79", "font": "DejaVu Sans Mono", "fontSize": 10.5, "align": "left", "baseline": "alphabetic", "dx": 12.7, "dy": 9.2, "color": "#111111"},
 "encoding": {"x": {"datum": -0.755}, "y": {"datum": 298.36}}},
{"data": {"values": [{}]}, "mark": {"type": "text", "text": "EMA(20) 294.88", "font": "Liberation Sans", "fontSize": 9.5, "align": "left", "baseline": "alphabetic", "dx": 10, "dy": 18.7, "color": "#00007F"},
 "encoding": {"x": {"datum": -0.755}, "y": {"datum": 298.36}}},
{"data": {"values": [{}]}, "mark": {"type": "text", "text": "©StockCharts.com", "font": "Liberation Sans", "fontSize": 10.5, "align": "right", "baseline": "alphabetic", "dx": 0, "dy": -16, "color": "#555555"},
 "encoding": {"x": {"datum": 329.16}, "y": {"datum": 298.36}}},
{"data": {"values": [{}]}, "mark": {"type": "text", "text": "Open", "font": "Liberation Sans", "fontSize": 11, "fontWeight": "bold", "align": "left", "baseline": "alphabetic", "dx": -460, "dy": -3.6, "color": "#111111"},
 "encoding": {"x": {"datum": 329.16}, "y": {"datum": 298.36}}},
{"data": {"values": [{}]}, "mark": {"type": "text", "text": "296.79", "font": "Liberation Sans", "fontSize": 11, "align": "left", "baseline": "alphabetic", "dx": -430.6, "dy": -3.6, "color": "#111111"},
 "encoding": {"x": {"datum": 329.16}, "y": {"datum": 298.36}}},
{"data": {"values": [{}]}, "mark": {"type": "text", "text": "High", "font": "Liberation Sans", "fontSize": 11, "fontWeight": "bold", "align": "left", "baseline": "alphabetic", "dx": -389.2, "dy": -3.6, "color": "#111111"},
 "encoding": {"x": {"datum": 329.16}, "y": {"datum": 298.36}}},
{"data": {"values": [{}]}, "mark": {"type": "text", "text": "297.67", "font": "Liberation Sans", "fontSize": 11, "align": "left", "baseline": "alphabetic", "dx": -361.9, "dy": -3.6, "color": "#111111"},
 "encoding": {"x": {"datum": 329.16}, "y": {"datum": 298.36}}},
{"data": {"values": [{}]}, "mark": {"type": "text", "text": "Low", "font": "Liberation Sans", "fontSize": 11, "fontWeight": "bold", "align": "left", "baseline": "alphabetic", "dx": -323.3, "dy": -3.6, "color": "#111111"},
 "encoding": {"x": {"datum": 329.16}, "y": {"datum": 298.36}}},
{"data": {"values": [{}]}, "mark": {"type": "text", "text": "293.69", "font": "Liberation Sans", "fontSize": 11, "align": "left", "baseline": "alphabetic", "dx": -296.3, "dy": -3.6, "color": "#111111"},
 "encoding": {"x": {"datum": 329.16}, "y": {"datum": 298.36}}},
{"data": {"values": [{}]}, "mark": {"type": "text", "text": "Close", "font": "Liberation Sans", "fontSize": 11, "fontWeight": "bold", "align": "left", "baseline": "alphabetic", "dx": -257, "dy": -3.6, "color": "#111111"},
 "encoding": {"x": {"datum": 329.16}, "y": {"datum": 298.36}}},
{"data": {"values": [{}]}, "mark": {"type": "text", "text": "294.88", "font": "Liberation Sans", "fontSize": 11, "align": "left", "baseline": "alphabetic", "dx": -222.6, "dy": -3.6, "color": "#111111"},
 "encoding": {"x": {"datum": 329.16}, "y": {"datum": 298.36}}},
{"data": {"values": [{}]}, "mark": {"type": "text", "text": "Volume", "font": "Liberation Sans", "fontSize": 11, "fontWeight": "bold", "align": "left", "baseline": "alphabetic", "dx": -182.3, "dy": -3.6, "color": "#111111"},
 "encoding": {"x": {"datum": 329.16}, "y": {"datum": 298.36}}},
{"data": {"values": [{}]}, "mark": {"type": "text", "text": "74.9M", "font": "Liberation Sans", "fontSize": 11, "align": "left", "baseline": "alphabetic", "dx": -137.7, "dy": -3.6, "color": "#111111"},
 "encoding": {"x": {"datum": 329.16}, "y": {"datum": 298.36}}},
{"data": {"values": [{}]}, "mark": {"type": "text", "text": "Chg", "font": "Liberation Sans", "fontSize": 11, "fontWeight": "bold", "align": "left", "baseline": "alphabetic", "dx": -101, "dy": -3.6, "color": "#111111"},
 "encoding": {"x": {"datum": 329.16}, "y": {"datum": 298.36}}},
{"data": {"values": [{}]}, "mark": {"type": "text", "text": "-2.05 (-0.69%)", "font": "Liberation Sans", "fontSize": 11, "align": "left", "baseline": "alphabetic", "dx": -77, "dy": -3.6, "color": "#111111"},
 "encoding": {"x": {"datum": 329.16}, "y": {"datum": 298.36}}},
{"data": {"values": [{}]}, "mark": {"type": "text", "text": "▼", "font": "DejaVu Sans", "fontSize": 8, "align": "left", "baseline": "alphabetic", "dx": -7.5, "dy": -4.5, "color": "#8B1A1A"},
 "encoding": {"x": {"datum": 329.16}, "y": {"datum": 298.36}}}
]
},
{
"width": 2448, "height": 1050,
"layer": [
{"data": {"name": "bars"},
 "mark": {"type": "bar", "size": 4.8, "fill": "#57A4D0", "stroke": "#235E89", "strokeWidth": 1},
 "encoding": {
  "x": {"field": "i", "type": "quantitative", "scale": {"domain": [-0.755, 329.16], "nice": false, "zero": false},
   "axis": {"orient": "bottom", "title": null, "tickCount": 200, "values": [0,7,14,21,28,35,42,49,56,63,70,77,84,91,98,105,112,119,126,133,140,147,154,161,168,175,182,189,196,203,210,217,224,231,238,245,252,259,266,273,280,287,294,301,308,315,322],
    "labelExpr": "['20Mar','23Mar','24Mar','25Mar','26Mar','27Mar','30Mar','31Mar','1Apr','2Apr','3Apr','6Apr','7Apr','8Apr','9Apr','13Apr','14Apr','15Apr','16Apr','17Apr','20Apr','21Apr','22Apr','23Apr','24Apr','27Apr','28Apr','29Apr','30Apr','1May','4May','5May','6May','7May','8May','11May','12May','13May','14May','15May','18May','19May','20May','21May','22May','26May','27May'][round(datum.value/7)]",
    "tickSize": 3, "labelPadding": 2.5, "labelFlush": false, "labelOverlap": false, "labelBound": false}},
  "y": {"field": "m", "type": "quantitative", "scale": {"domain": [-2.091, 2.639], "nice": false, "zero": false},
   "axis": {"orient": "right", "title": null, "format": ".1f", "tickCount": 200, "values": [-2.0,-1.9,-1.8,-1.7,-1.6,-1.5,-1.4,-1.3,-1.2,-1.1,-1.0,-0.9,-0.8,-0.7,-0.6,-0.5,-0.4,-0.3,-0.2,-0.1,0,0.1,0.2,0.3,0.4,0.5,0.6,0.7,0.8,0.9,1.0,1.1,1.2,1.3,1.4,1.5,1.6,1.7,1.8,1.9,2.0,2.1,2.2,2.3,2.4,2.5,2.6],
    "labelFontSize": 9, "tickSize": 3, "labelPadding": 3, "labelOverlap": false, "labelFlush": false, "labelBound": false}},
  "y2": {"datum": 0}
 }},
{"data": {"values": [{}]},
 "mark": {"type": "rule", "color": "#1E1EA8", "strokeWidth": 1},
 "encoding": {"y": {"datum": 0}}},
{"data": {"name": "trend"},
 "mark": {"type": "line", "strokeWidth": 3},
 "encoding": {
  "x": {"field": "x", "type": "quantitative"},
  "y": {"field": "v", "type": "quantitative"},
  "color": {"field": "id", "type": "nominal", "scale": {"domain": ["g", "r"], "range": ["#138A13", "#FF0000"]}, "legend": null}
 }},
{"data": {"values": [{}]}, "mark": {"type": "text", "text": "▂▄▆", "font": "DejaVu Sans", "fontSize": 5.5, "align": "left", "baseline": "alphabetic", "dx": 5, "dy": 10.7, "color": "#2F6FA5"},
 "encoding": {"x": {"datum": -0.755}, "y": {"datum": 2.639}}},
{"data": {"values": [{}]}, "mark": {"type": "text", "text": "MACD(12,26,9) Hist -0.556", "font": "DejaVu Sans Mono", "fontSize": 9.9, "align": "left", "baseline": "alphabetic", "dx": 17.6, "dy": 10.7, "color": "#111111"},
 "encoding": {"x": {"datum": -0.755}, "y": {"datum": 2.639}}}
]
}
]
}
